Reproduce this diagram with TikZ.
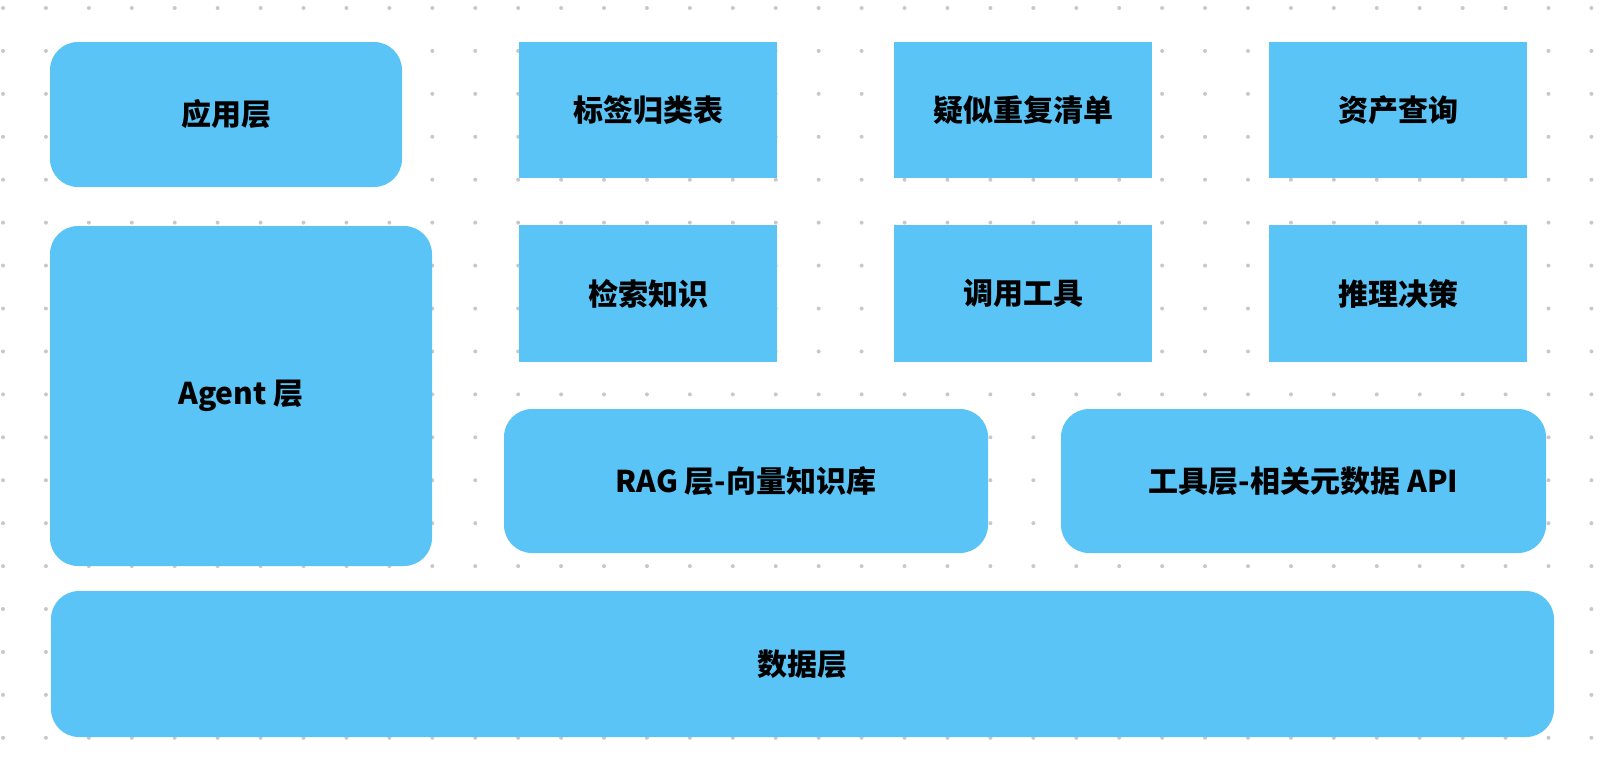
\documentclass[tikz,border=0pt]{standalone}
\usepackage{fontspec}
\usepackage{tikz}
\newfontfamily\cjk{Noto Sans CJK SC}
\definecolor{skyblue}{RGB}{91,196,247}
\definecolor{dotgray}{RGB}{200,200,200}
\tikzset{
  layer/.style={fill=skyblue, rounded corners=28pt, inner sep=0pt, font=\cjk\bfseries\fontsize{30pt}{36pt}\selectfont},
  task/.style={fill=skyblue, inner sep=0pt, minimum width=258pt, minimum height=136pt, font=\cjk\bfseries\fontsize{30pt}{36pt}\selectfont}
}

\begin{document}
\begin{tikzpicture}[x=1pt, y=-1pt]
\useasboundingbox (0,0) rectangle (1606,772);
% dot grid
\foreach \i in {0,...,37}
  \foreach \j in {0,...,17}
    \fill[dotgray] (3+42.93*\i, 8+42.93*\j) circle (2pt);
%
\node[layer, minimum width=352pt, minimum height=145pt] (app) at (226,114.5) {应用层};
\node[task] (tags) at (648,110) {标签归类表};
\node[task] (dups) at (1023,110) {疑似重复清单};
\node[task] (query) at (1398,110) {资产查询};
%
\node[layer, minimum width=382pt, minimum height=340pt] (agent) at (241,396) {Agent 层};
\node[task, minimum height=137pt] (fetch) at (648,293.5) {检索知识};
\node[task, minimum height=137pt] (call) at (1023,293.5) {调用工具};
\node[task, minimum height=137pt] (reason) at (1398,293.5) {推理决策};
%
\node[layer, minimum width=484pt, minimum height=144pt] (rag) at (746,481) {RAG 层-向量知识库};
\node[layer, minimum width=485pt, minimum height=144pt] (tools) at (1303.5,481) {工具层-相关元数据 API};
%
\node[layer, minimum width=1503pt, minimum height=146pt] (data) at (802.5,664) {数据层};
\end{tikzpicture}
\end{document}
